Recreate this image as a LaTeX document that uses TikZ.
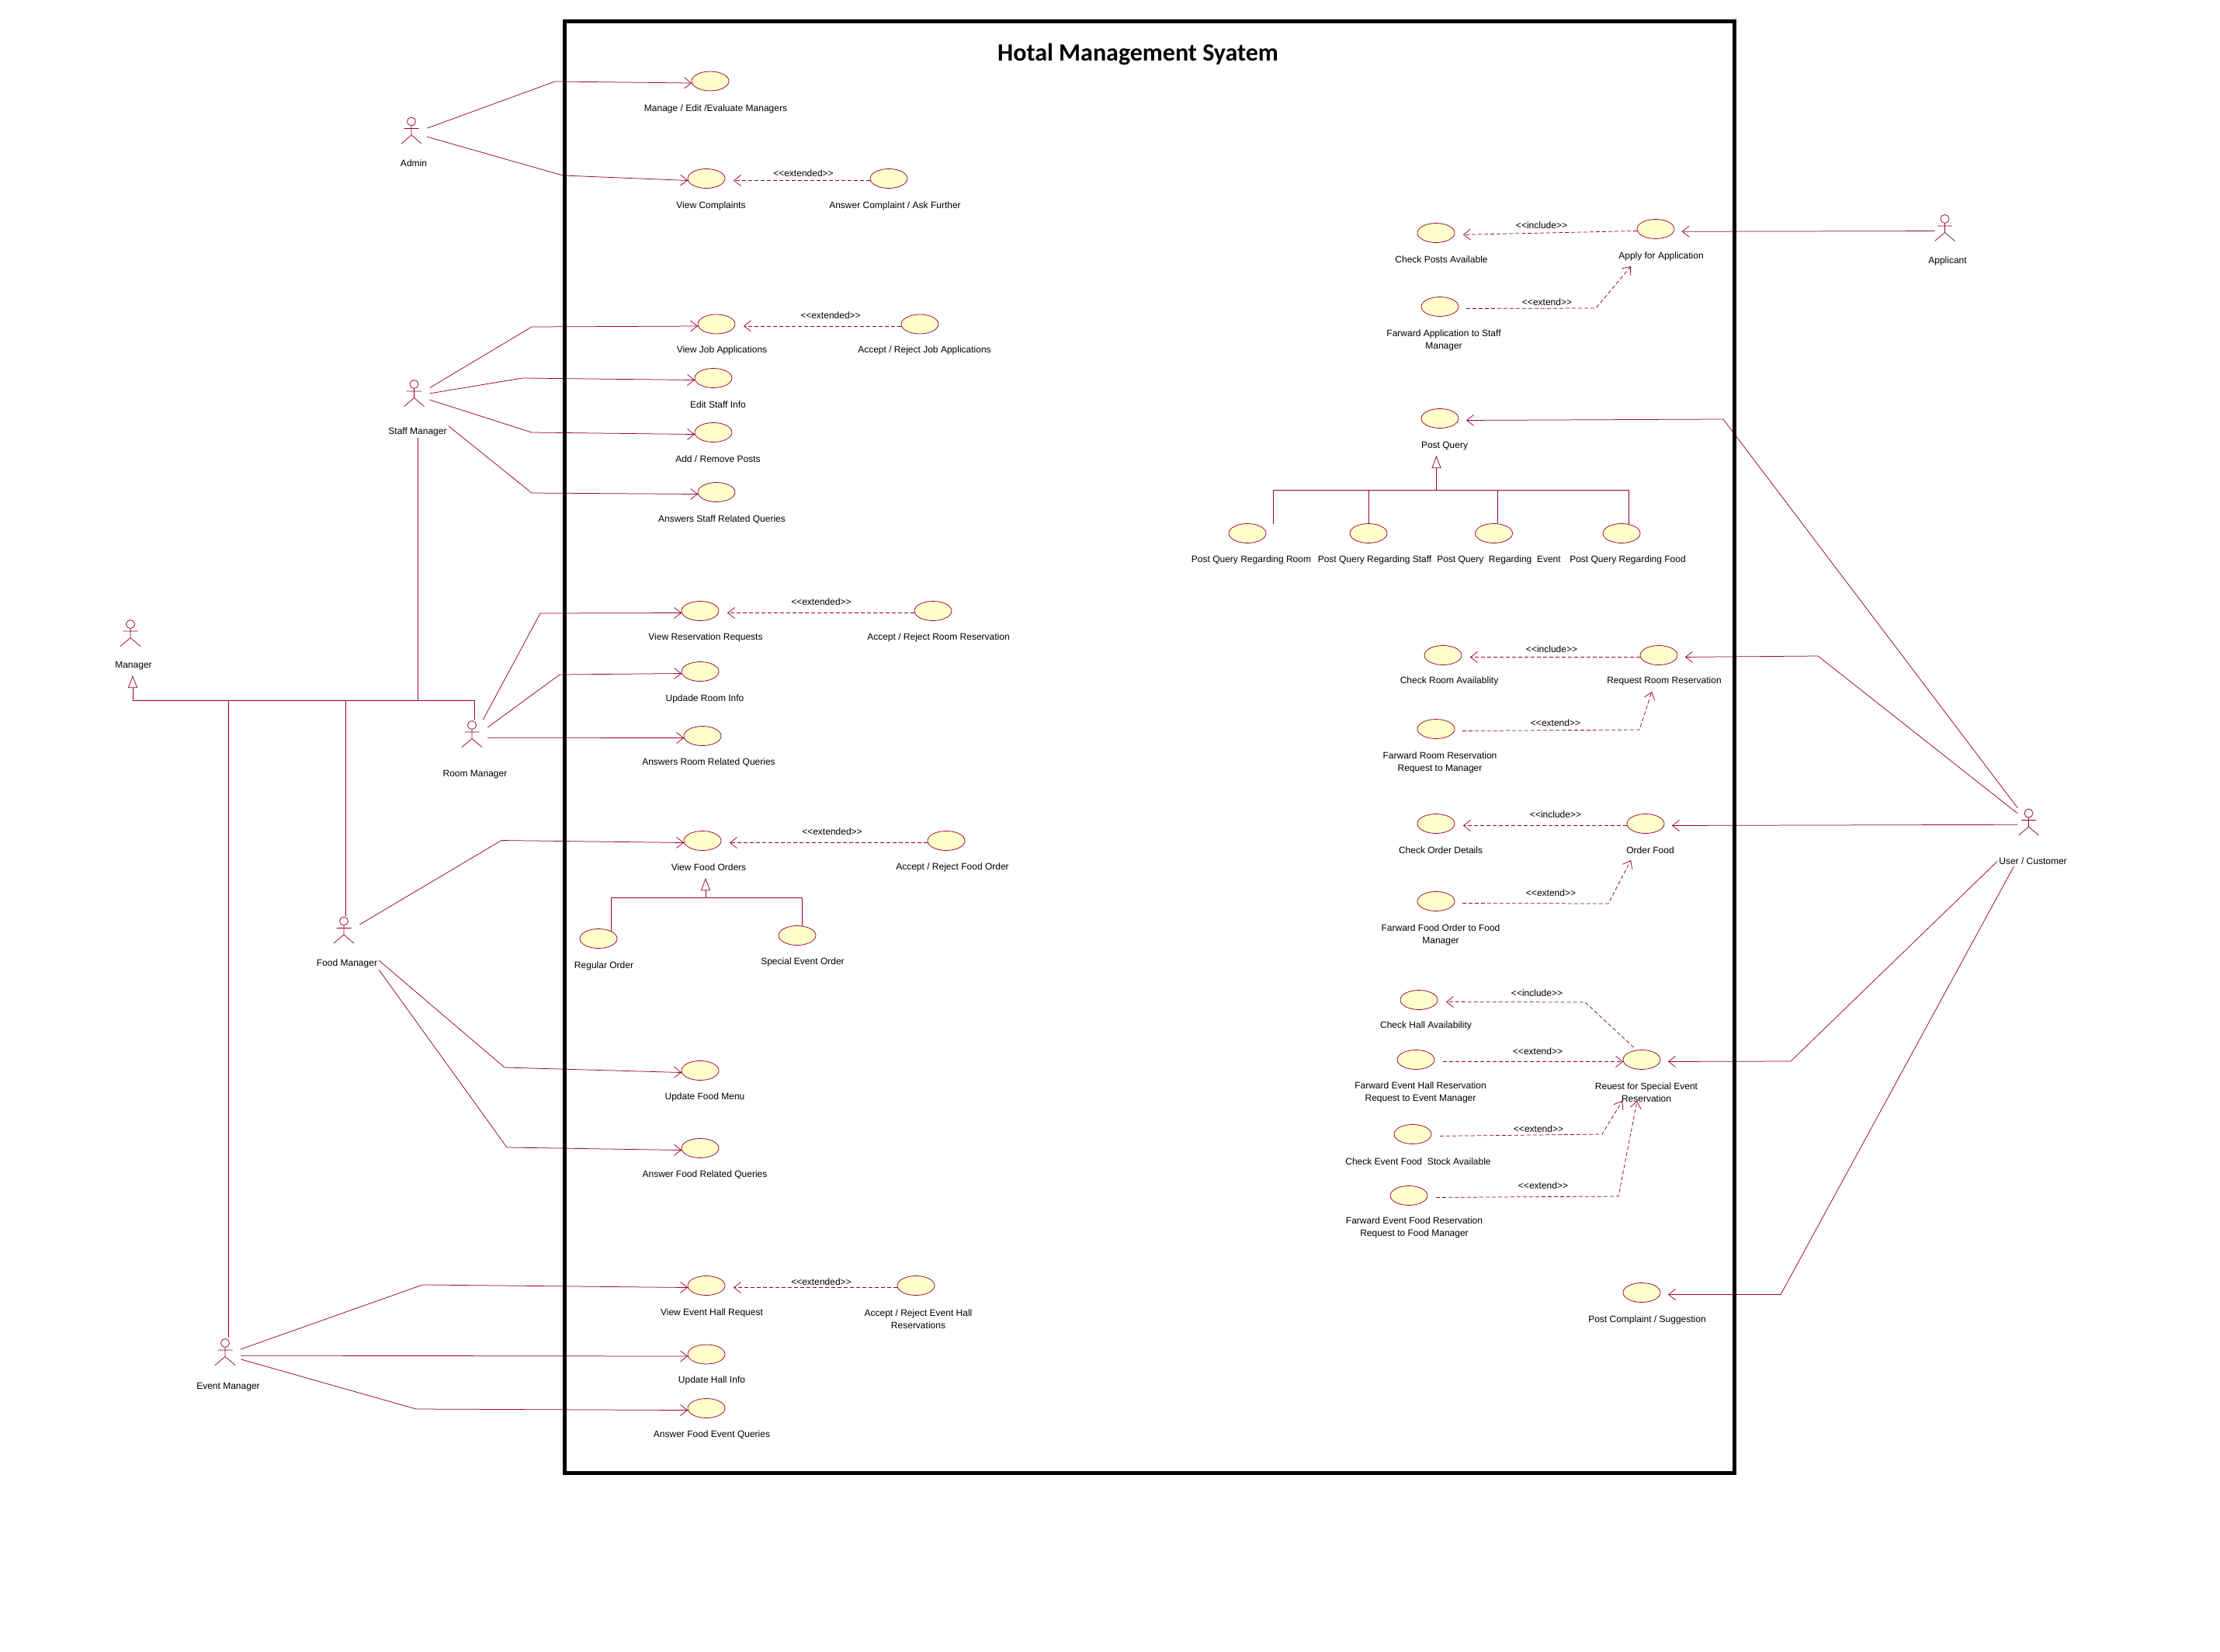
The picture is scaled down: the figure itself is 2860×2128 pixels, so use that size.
\documentclass[tikz,border=0pt]{standalone}
\usepackage{fontspec}
\usepackage{xcolor}
\usepackage{tikz}
\usetikzlibrary{shapes.geometric, arrows.meta, calc}
\newfontfamily\umlfont{Liberation Sans}
\newfontfamily\titlefont{Carlito}
\definecolor{umlred}{RGB}{153,0,51}
\definecolor{ucfill}{RGB}{255,255,204}
\tikzset{
  usecase/.style={ellipse, draw=umlred, fill=ucfill, minimum width=48pt, minimum height=25pt,
    inner sep=0pt, line width=0.75pt, yshift=-1pt},
  uclabel/.style={align=center, inner sep=2pt, text=black, yshift=-2.5pt,
    font=\umlfont\fontsize{12}{15.7}\selectfont},
  stereo/.style={inner sep=0pt, text=black, yshift=-1.5pt, font=\umlfont\fontsize{12}{14}\selectfont},
  actorbox/.style={rectangle, minimum width=40pt, minimum height=36pt, inner sep=0pt,
    path picture={
      \draw[umlred, line width=0.75pt, shift={(path picture bounding box.center)}]
        (0pt,11.5pt) circle (5.5pt) (0pt,6pt) -- (0pt,-6pt) (-9.5pt,2.5pt) -- (9.5pt,2.5pt)
        (-13pt,-17pt) -- (0pt,-6pt) -- (13pt,-17pt);}},
  sysbox/.style={rectangle, draw=black, line width=5pt, inner sep=0pt},
  assoc/.style={-{Straight Barb[length=9pt,width=14pt]}, umlred, line width=0.75pt},
  assocr/.style={assoc, shorten >=10pt},
  depend/.style={-{Straight Barb[length=9pt,width=14pt]}, umlred, line width=0.75pt,
    dash pattern=on 5pt off 3pt},
  dependr/.style={depend, shorten >=11pt},
  genarrow/.style={-{Triangle[open, length=16pt, width=12pt]}, umlred, line width=0.75pt},
  genline/.style={umlred, line width=0.75pt}
}
\begin{document}
\begin{tikzpicture}[x=1pt,y=-1pt]
  \useasboundingbox (0,0) rectangle (2860,2128);

  % Actors
  \node[actorbox] (admin) at (530,168) {};
  \node[uclabel] (adminname) at (533,208) {Admin};
  \node[actorbox] (staffm) at (533.5,506.5) {};
  \node[uclabel] (staffname) at (538,554) {Staff Manager};
  \node[actorbox] (manager) at (168,815.5) {};
  \node[uclabel] (mgrname) at (172,855) {Manager};
  \node[actorbox] (roomm) at (608,945.5) {};
  \node[uclabel] (roomname) at (612,995) {Room Manager};
  \node[actorbox] (foodm) at (443,1198) {};
  \node[uclabel] (foodname) at (447,1239) {Food Manager};
  \node[actorbox] (eventm) at (290,1741.5) {};
  \node[uclabel] (eventname) at (294,1784) {Event Manager};
  \node[actorbox, minimum width=26pt] (applicant) at (2505.5,293.5) {};
  \node[uclabel] (applname) at (2509,334) {Applicant};
  \node[actorbox, minimum width=28pt] (usr) at (2613.5,1059) {};
  \node[uclabel] (usrname) at (2619,1107) {User / Customer};

  % Left column use cases
  \node[usecase] (mee) at (915,103.5) {};
  \node[uclabel] (meelbl) at (922,137.5) {Manage / Edit /Evaluate Managers};
  \node[usecase] (vc) at (910,229) {};
  \node[uclabel] (vclbl) at (916,263) {View Complaints};
  \node[usecase] (acaf) at (1145,229) {};
  \node[uclabel] (acaflbl) at (1153,263) {Answer Complaint / Ask Further};
  \node[usecase] (vja) at (923,416.5) {};
  \node[uclabel] (vjalbl) at (930,449) {View Job Applications};
  \node[usecase] (arja) at (1185,416.5) {};
  \node[uclabel] (arjalbl) at (1191,449) {Accept / Reject Job Applications};
  \node[usecase] (esi) at (919,486) {};
  \node[uclabel] (esilbl) at (925,519) {Edit Staff Info};
  \node[usecase] (arp) at (919,556) {};
  \node[uclabel] (arplbl) at (925,589) {Add / Remove Posts};
  \node[usecase] (asrq) at (923,633) {};
  \node[uclabel] (asrqlbl) at (930,667) {Answers Staff Related Queries};
  \node[usecase] (vrr) at (902,786) {};
  \node[uclabel] (vrrlbl) at (909,819) {View Reservation Requests};
  \node[usecase] (arrr) at (1202,786) {};
  \node[uclabel] (arrrlbl) at (1209,819) {Accept / Reject Room Reservation};
  \node[usecase] (uri) at (902,864) {};
  \node[uclabel] (urilbl) at (908,898) {Updade Room Info};
  \node[usecase] (arq) at (905,947) {};
  \node[uclabel] (arqlbl) at (913,980) {Answers Room Related Queries};
  \node[usecase] (vfo) at (905,1082) {};
  \node[uclabel] (vfolbl) at (913,1115) {View Food Orders};
  \node[usecase] (afo) at (1219,1082) {};
  \node[uclabel] (afolbl) at (1227,1115) {Accept / Reject Food Order};
  \node[usecase] (reg) at (771,1208) {};
  \node[uclabel] (reglbl) at (778,1242) {Regular Order};
  \node[usecase] (seo) at (1027,1204) {};
  \node[uclabel] (seolbl) at (1034,1237) {Special Event Order};
  \node[usecase] (ufm) at (902,1378) {};
  \node[uclabel] (ufmlbl) at (908,1411) {Update Food Menu};
  \node[usecase] (afrq) at (902,1478) {};
  \node[uclabel] (afrqlbl) at (908,1511) {Answer Food Related Queries};
  \node[usecase] (vehr) at (910,1655) {};
  \node[uclabel] (vehrlbl) at (917,1689) {View Event Hall Request};
  \node[usecase] (arehr) at (1180,1655) {};
  \node[uclabel] (arehrlbl) at (1183,1697) {Accept / Reject Event Hall\\Reservations};
  \node[usecase] (uhi) at (910,1743.5) {};
  \node[uclabel] (uhilbl) at (917,1776) {Update Hall Info};
  \node[usecase] (afeq) at (910,1813) {};
  \node[uclabel] (afeqlbl) at (917,1846) {Answer Food Event Queries};

  % Right column use cases
  \node[usecase] (cpa) at (1850,299) {};
  \node[uclabel] (cpalbl) at (1857,332) {Check Posts Available};
  \node[usecase] (afa) at (2133,294) {};
  \node[uclabel] (afalbl) at (2140,328) {Apply for Application};
  \node[usecase] (fas) at (1855,394) {};
  \node[uclabel] (faslbl) at (1860,436) {Farward Application to Staff\\Manager};
  \node[usecase] (pq) at (1855,538) {};
  \node[uclabel] (pqlbl) at (1861,572) {Post Query};
  \node[usecase] (pqr) at (1607,686) {};
  \node[uclabel] (pqrlbl) at (1612,719) {Post Query Regarding Room};
  \node[usecase] (pqs) at (1763,686) {};
  \node[uclabel] (pqslbl) at (1771,719) {Post Query Regarding Staff};
  \node[usecase] (pqe) at (1924.5,686) {};
  \node[uclabel] (pqelbl) at (1931,719) {Post Query\ \ Regarding\ \ Event};
  \node[usecase] (pqf) at (2089,686) {};
  \node[uclabel] (pqflbl) at (2097,719) {Post Query Regarding Food};
  \node[usecase] (cra) at (1859,843) {};
  \node[uclabel] (cralbl) at (1867,875) {Check Room Availablity};
  \node[usecase] (rrr) at (2137,843) {};
  \node[uclabel] (rrrlbl) at (2144,875) {Request Room Reservation};
  \node[usecase] (frr) at (1850,938) {};
  \node[uclabel] (frrlbl) at (1855,980) {Farward Room Reservation\\Request to Manager};
  \node[usecase] (cod) at (1850,1060) {};
  \node[uclabel] (codlbl) at (1856,1093) {Check Order Details};
  \node[usecase] (ofd) at (2120,1060) {};
  \node[uclabel] (ofdlbl) at (2126,1093) {Order Food};
  \node[usecase] (ffo) at (1850,1160) {};
  \node[uclabel] (ffolbl) at (1856,1202) {Farward Food Order to Food\\Manager};
  \node[usecase] (cha) at (1828,1287) {};
  \node[uclabel] (chalbl) at (1837,1319) {Check Hall Availability};
  \node[usecase] (rse) at (2115,1364) {};
  \node[uclabel] (rselbl) at (2121,1405) {Reuest for Special Event\\Reservation};
  \node[usecase] (feh) at (1824,1364) {};
  \node[uclabel] (fehlbl) at (1830,1405) {Farward Event Hall Reservation\\Request to Event Manager};
  \node[usecase] (cef) at (1820,1460) {};
  \node[uclabel] (ceflbl) at (1827,1494) {Check Event Food\ \ Stock Available};
  \node[usecase] (fef) at (1815,1539) {};
  \node[uclabel] (feflbl) at (1822,1579) {Farward Event Food Reservation\\Request to Food Manager};
  \node[usecase] (pcs) at (2115,1664) {};
  \node[uclabel] (pcslbl) at (2122,1698) {Post Complaint / Suggestion};

  % Stereotypes
  \node[stereo] (st1) at (1035,222) {<<extended>>};
  \node[stereo] (st2) at (1070,405) {<<extended>>};
  \node[stereo] (st3) at (1058,774) {<<extended>>};
  \node[stereo] (st4) at (1072,1070) {<<extended>>};
  \node[stereo] (st5) at (1058,1650) {<<extended>>};
  \node[stereo] (st6) at (1986,289) {<<include>>};
  \node[stereo] (st7) at (1993,388) {<<extend>>};
  \node[stereo] (st8) at (1999,835) {<<include>>};
  \node[stereo] (st9) at (2004,930) {<<extend>>};
  \node[stereo] (st10) at (2004,1048) {<<include>>};
  \node[stereo] (st11) at (1998,1149) {<<extend>>};
  \node[stereo] (st12) at (1980,1278) {<<include>>};
  \node[stereo] (st13) at (1981,1353) {<<extend>>};
  \node[stereo] (st14) at (1982,1453) {<<extend>>};
  \node[stereo] (st15) at (1988,1526) {<<extend>>};

  % Connection points
  \coordinate (mgrjoin) at (171,902.5);
  \coordinate (mgrtip) at (171,870);
  \coordinate (vfojoin) at (909,1156);
  \coordinate (vfotip) at (909,1131);
  \coordinate (pqjoin) at (1850.5,631);
  \coordinate (pqtip) at (1850.5,587);
  \coordinate (pqrend) at (1640,675);
  \coordinate (afaend) at (2101,343);
  \coordinate (rrrend) at (2128,891);
  \coordinate (ofdend) at (2101,1108);
  \coordinate (rseend) at (2090,1418);
  \coordinate (rseendb) at (2109,1418);

  % Actor connections, left
  \draw[assoc] (admin.8.5) -- (715,105) -- (mee.186);
  \draw[assoc] (admin.-22) -- (725,226) -- (vc.186);
  \draw[assoc] (staffm.19) -- (685,421) -- (vja.186);
  \draw[assoc] (staffm.-1) -- (673,487) -- (esi.186);
  \draw[assoc] (staffm.-23) -- (685,557) -- (arp.186);
  \draw[assoc] (staffname.north east) -- (685,635) -- (asrq.186);
  \draw[assoc] (roomm.52) -- (696,790) -- (vrr.186);
  \draw[assoc] (roomm.23) -- (721,869) -- (uri.186);
  \draw[assoc] (roomm.-13) -- (arq.186);
  \draw[assoc] (foodm.19) -- (646,1082.5) -- (vfo.186);
  \draw[assoc] (foodname.6) -- (650,1375) -- (ufm.186);
  \draw[assoc] (foodname.south east) -- (653,1478) -- (afrq.186);
  \draw[assoc] (eventm.10) -- (544.5,1655) -- (vehr.186);
  \draw[assoc] (eventm.-13) -- (uhi.186);
  \draw[assoc] (eventm.-25) -- (536,1815) -- (afeq.186);

  % Actor connections, right
  \draw[assocr] (applicant.197) -- (afa.-8);
  \draw[assocr] (usr.north west) -- (2220,540) -- (pq.-6);
  \draw[assocr] (usr.142) -- (2342,845) -- (rrr.-6);
  \draw[assocr] (usr.193) -- (ofd.-6);
  \draw[assocr] (usrname.west) -- (2307,1367) -- (rse.-6);
  \draw[assocr] (usrname.195) -- (2294,1667.5) -- (pcs.-6);

  % Generalisations
  \draw[genarrow] (mgrjoin) -- (mgrtip);
  \draw[genline] (roomm.81) |- (mgrjoin);
  \draw[genline] (foodm.84) |- (mgrjoin);
  \draw[genline] (eventm.77) |- (mgrjoin);
  \draw[genline] (staffname.south) |- (mgrjoin);
  \draw[genarrow] (vfojoin) -- (vfotip);
  \draw[genline] (reg.30) |- (vfojoin);
  \draw[genline] (seo.63) |- (vfojoin);
  \draw[genarrow] (pqjoin) -- (pqtip);
  \draw[genline] (pqrend) |- (pqjoin);
  \draw[genline] (pqs.north) |- (pqjoin);
  \draw[genline] (pqe.69) |- (pqjoin);
  \draw[genline] (pqf.51) |- (pqjoin);

  % Extends and includes
  \draw[dependr] (acaf.186) -- (vc.-6);
  \draw[dependr] (arja.186) -- (vja.-6);
  \draw[dependr] (arrr.186) -- (vrr.-6);
  \draw[dependr] (afo.186) -- (vfo.-6);
  \draw[dependr] (arehr.186) -- (vehr.-6);
  \draw[dependr] (afa.186) -- (cpa.-6);
  \draw[depend, shorten <=10pt] (fas.-6) -- (2056,397) -- (afaend);
  \draw[dependr] (rrr.186) -- (cra.-6);
  \draw[depend, shorten <=10pt] (frr.-6) -- (2112,940) -- (rrrend);
  \draw[dependr] (ofd.186) -- (cod.-6);
  \draw[depend, shorten <=10pt] (ffo.-6) -- (2072,1164) -- (ofdend);
  \draw[dependr, shorten <=5pt] (rse.118) -- (2042,1291) -- (cha.-6);
  \draw[depend, shorten <=11pt] (feh.-6) -- (rse.186);
  \draw[depend, shorten <=11pt] (cef.-6) -- (2064,1461) -- (rseend);
  \draw[depend, shorten <=11pt] (fef.-6) -- (2085,1541) -- (rseendb);

  % System boundary
  \node[sysbox, minimum width=1507pt, minimum height=1870pt] (hms) at (1480.5,962) {};
  \node[inner sep=0pt, text=black, font=\titlefont\bfseries\fontsize{32}{40}\selectfont] (hmstitle) at (1466,70) {Hotal Management Syatem};

\end{tikzpicture}
\end{document}
